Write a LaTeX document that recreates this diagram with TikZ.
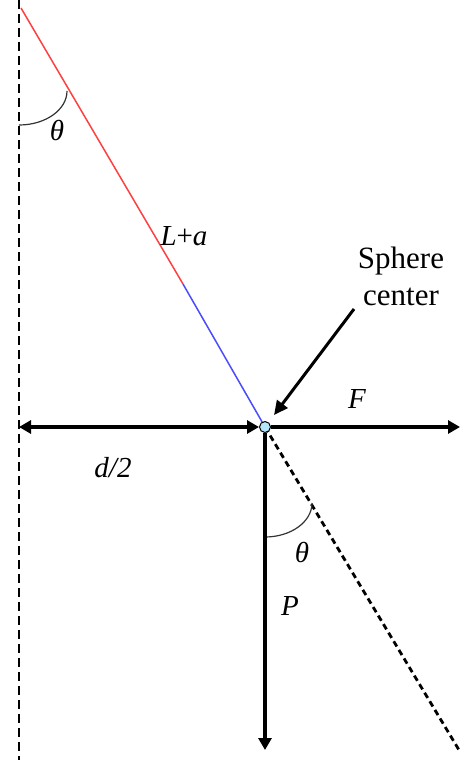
\documentclass[tikz,border=0pt]{standalone}
\usepackage{fontspec}
\setmainfont{Liberation Serif}
\usetikzlibrary{arrows.meta}

\begin{document}
\begin{tikzpicture}[x=1pt, y=-1pt,
    font=\fontsize{31}{37}\selectfont,
    lbl/.style={inner sep=0pt, font=\fontsize{29}{36}\selectfont\itshape},
    wall/.style={line width=2.4pt, dash pattern=on 9pt off 5pt},
    extn/.style={line width=2.8pt, dash pattern=on 6pt off 4pt},
    force/.style={line width=3.6pt, -{Triangle[length=12pt, width=13pt]}},
    pointer/.style={line width=3pt, -{Triangle[length=14pt, width=13pt]}, shorten >=9pt},
    angarc/.style={line width=1.2pt, draw=black!80},
    sphere/.style={circle, draw=black, line width=1pt, fill=cyan!30!white,
                   minimum size=11pt, inner sep=0pt},
]
\useasboundingbox (0,0) rectangle (462,760);

% fixed points
\coordinate (wtop) at (19,0);
\coordinate (wbot) at (19,760);
\coordinate (apex) at (21,8);
\coordinate (mid) at (183,284);
\coordinate (ctr0) at (265,427);
\coordinate (wpt) at (19,427);
\coordinate (fend) at (460,427);
\coordinate (pend) at (265,750);
\coordinate (xend) at (459,750);
\coordinate (ptail) at (354,309);

% wall and thread
\draw[wall] (wtop) -- (wbot);
\draw[red!75!white, line width=1.5pt] (apex) -- (mid);
\draw[blue!70!white, line width=1.5pt] (mid) -- (ctr0);
\draw[extn] (ctr0) -- (xend);

% angle arcs
\draw[angarc] (19,125) arc[start angle=90, end angle=0, x radius=48, y radius=34];
\draw[angarc] (265,537) arc[start angle=90, end angle=0, x radius=47, y radius=34];

\node[sphere] (ctr) at (ctr0) {};

% forces
\draw[force, {Triangle[length=12pt, width=13pt]}-{Triangle[length=12pt, width=13pt]}] (wpt) -- (ctr);
\draw[force] (ctr) -- (fend);
\draw[force] (ctr) -- (pend);

% labels
\node[align=center, inner sep=0pt] (sc) at (401,276) {Sphere\\center};
\draw[pointer] (ptail) -- (ctr);
\node[lbl] (th1) at (57,131) {θ};
\node[lbl] (th2) at (302,552) {θ};
\node[lbl] (len) at (184,236) {L\upshape+\itshape a};
\node[lbl] (hd) at (113,468) {d/2};
\node[lbl] (ff) at (357,399) {F};
\node[lbl] (pp) at (290,606) {P};
\end{tikzpicture}
\end{document}
